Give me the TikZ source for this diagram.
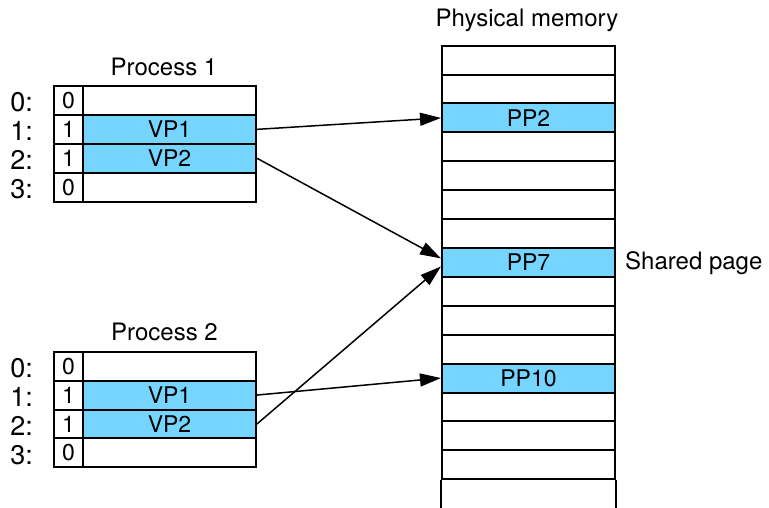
\documentclass[tikz,border=0pt]{standalone}
\usepackage{fontspec}
\setmainfont{TeX Gyre Heros}
\usetikzlibrary{arrows.meta,positioning}
\definecolor{pageblue}{RGB}{118,213,255}

\begin{document}
\begin{tikzpicture}[x=1pt,y=-1pt,
    cell/.style={rectangle, draw, line width=2pt, inner sep=0pt, minimum height=\rowh pt, font=\fontsize{23}{26}\selectfont},
    bitcell/.style={cell, minimum width=29pt},
    pagecell/.style={cell, minimum width=173pt},
    used/.style={fill=pageblue},
    plaintext/.style={inner sep=0pt, anchor=base, font=\fontsize{24}{28}\selectfont},
    maparrow/.style={line width=1.5pt, -{Triangle[length=21pt,width=13pt]}}]
        \def\rowh{28.9}
        \clip (0,0) rectangle (769,508);

        % process page tables
        \foreach \p/\top in {1/86, 2/351.7} {
            \foreach \i/\bit/\txt/\fillc in {0/0//white, 1/1/VP1/pageblue, 2/1/VP2/pageblue, 3/0//white} {
                \node (p\p bit\i) [bitcell] at (68.5, {\top+\rowh*(\i+0.5)}) {\bit};
                \node (p\p vp\i) [pagecell, fill=\fillc] at (169.5, {\top+\rowh*(\i+0.5)}) {\txt};
                \node (p\p idx\i) [plaintext, anchor=base east, font=\fontsize{27}{30}\selectfont] at (33, {\top+\rowh*(\i+0.5)+11.5}) {\i:};
            }
        }
        \node (p1title) [plaintext] at (164, 75.7) {Process 1};
        \node (p2title) [plaintext] at (164.5, 340) {Process 2};

        % physical memory
        \foreach \i in {0,...,14}
            \node (mem\i) [pagecell] at (528.5, {45.7+\rowh*(\i+0.5)}) {};
        \foreach \i/\txt in {2/PP2, 7/PP7, 11/PP10}
            \node (mem\i) [pagecell, used] at (528.5, {45.7+\rowh*(\i+0.5)}) {\txt};
        \draw[line width=2pt] (mem14.south west) -- ++(0,35);
        \draw[line width=2pt] (mem14.south east) -- ++(0,35);
        \node (memtitle) [plaintext] at (527, 27) {Physical memory};
        \node (shared) [plaintext, anchor=base west] at (625, 269.3) {Shared page};

        % mappings
        \draw[maparrow] (p1vp1.east) -- (mem2.west);
        \draw[maparrow] (p1vp2.east) -- ([yshift=4pt]mem7.west);
        \draw[maparrow] (p2vp1.east) -- (mem11.west);
        \draw[maparrow] (p2vp2.east) -- ([yshift=-4pt]mem7.west);
    \end{tikzpicture}
\end{document}
